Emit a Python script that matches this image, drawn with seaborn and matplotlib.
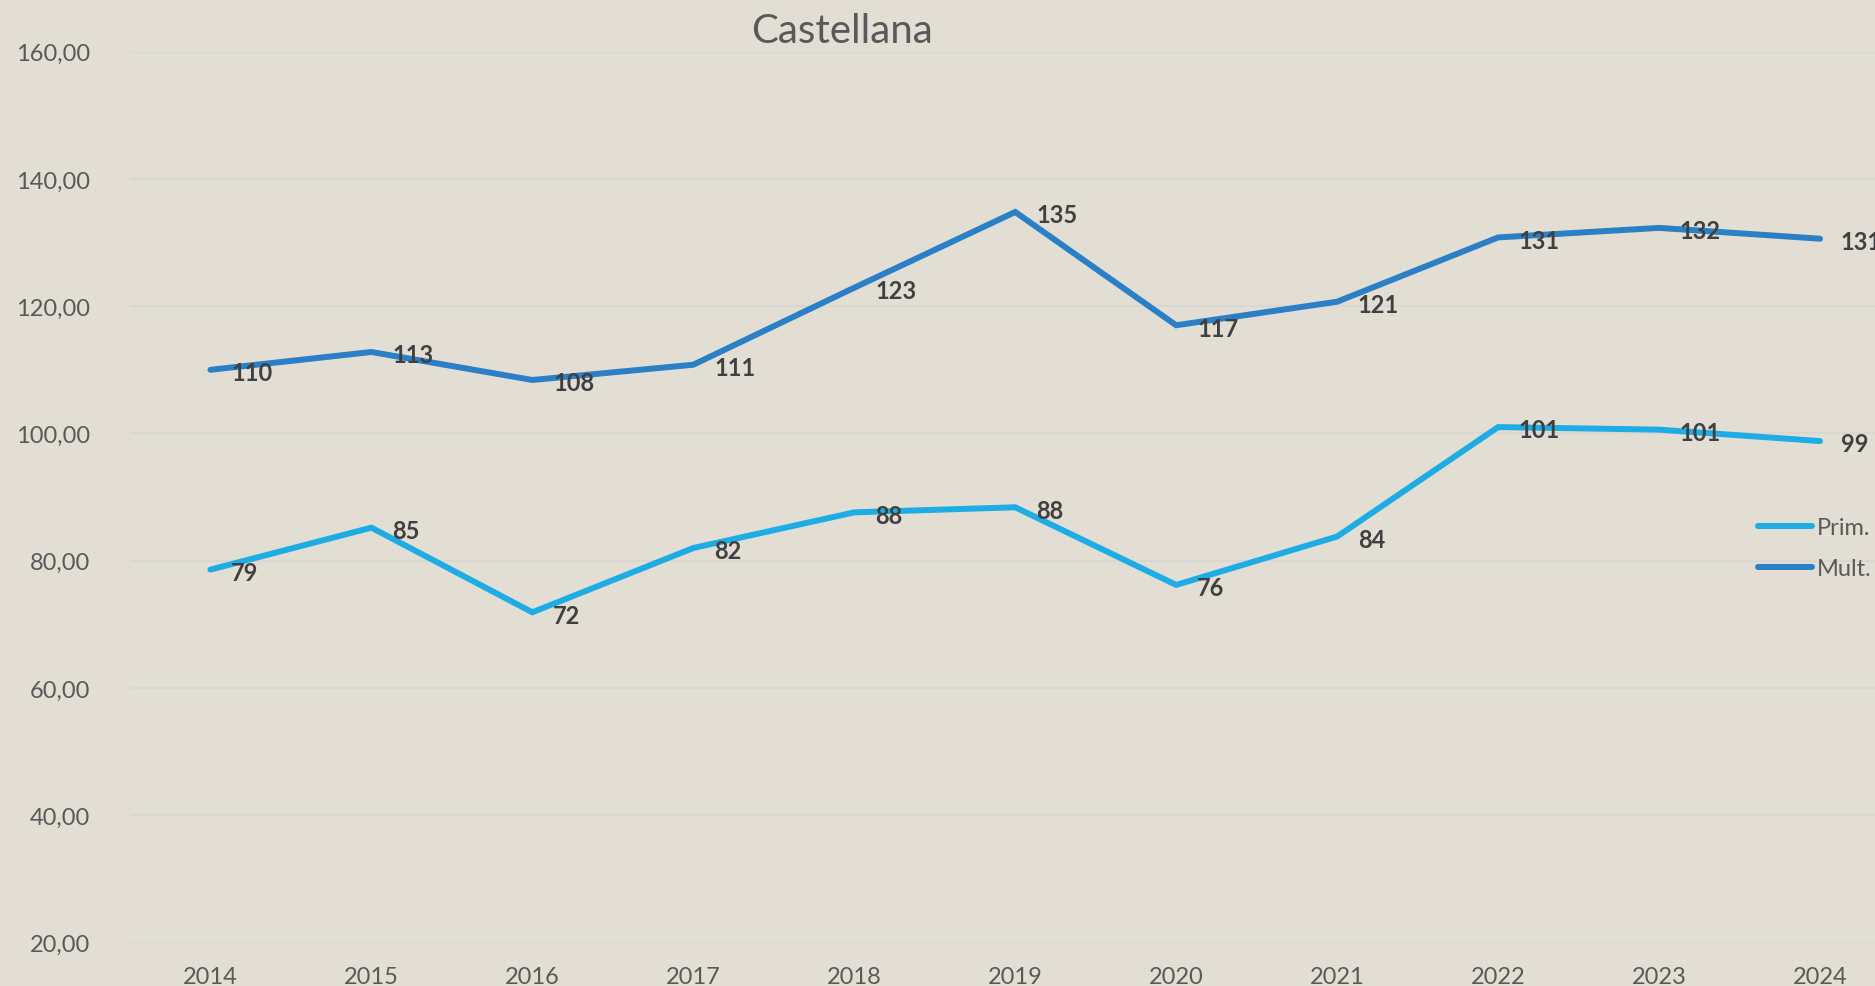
import numpy as np
import pandas as pd
import matplotlib
matplotlib.use('Agg')
import matplotlib.pyplot as plt
import seaborn as sns

years = [2014, 2015, 2016, 2017, 2018, 2019, 2020, 2021, 2022, 2023, 2024]
prim = [78.6, 85.2, 71.9, 82.0, 87.6, 88.4, 76.2, 83.8, 101.0, 100.6, 98.8]
mult = [110.0, 112.8, 108.4, 110.8, 122.9, 134.8, 117.0, 120.7, 130.8, 132.3, 130.6]
series_names = ['Prim.', 'Mult.']
colors = ['#1DADE4', '#2A7FC7']
title = 'Castellana'
y_ticks = [20, 40, 60, 80, 100, 120, 140, 160]

bg = '#E3DED3'
sns.set_theme(style='whitegrid', rc={'axes.facecolor': bg, 'figure.facecolor': bg,
                                     'grid.color': '#D8D7D3', 'grid.linewidth': 1.5})
plt.rcParams['font.family'] = ['Lato', 'DejaVu Sans']

df = pd.DataFrame({'year': years * 2,
                   'value': prim + mult,
                   'series': [series_names[0]] * len(years) + [series_names[1]] * len(years)})

fig = plt.figure(figsize=(18.75, 9.87), dpi=100)
ax = fig.add_axes([0.0693, 0.044, 0.9443, 0.9027])
sns.lineplot(data=df, x='year', y='value', hue='series', palette=colors,
             linewidth=4.3, ax=ax, legend=False)
for line in ax.lines:
    line.set_solid_capstyle('round')
    line.set_solid_joinstyle('miter')

# data labels to the right of each point
for vals in [prim, mult]:
    for x, v in zip(years, vals):
        ax.annotate(str(int(round(v))), (x, v), xytext=(15, -2), textcoords='offset points',
                    ha='left', va='center', fontsize=17, fontweight='bold', color='#404040',
                    annotation_clip=False)

ax.set_xlim(2013.5, 2024.5)
ax.set_ylim(20, 160)
ax.set_yticks(y_ticks)
ax.set_yticklabels(['%d,00' % t for t in y_ticks])
ax.set_xticks(years)
ax.set_xticklabels([str(y) for y in years])
ax.tick_params(axis='y', labelsize=17, labelcolor='#595959', pad=29, length=0)
ax.tick_params(axis='x', labelsize=17, labelcolor='#595959', pad=17, length=0)
ax.grid(axis='x', visible=False)
ax.set_xlabel('')
ax.set_ylabel('')
for s in ax.spines.values():
    s.set_visible(False)

fig.text(0.449, 0.968, title, ha='center', va='center', fontsize=29, color='#595959')

handles = [plt.Line2D([], [], color=c, linewidth=4.3, solid_capstyle='round') for c in colors]
fig.legend(handles, series_names, loc='center left', bbox_to_anchor=(0.9376, 0.4438),
           bbox_transform=fig.transFigure, frameon=False, fontsize=17, labelcolor='#595959',
           handlelength=2.3, handletextpad=0.2, labelspacing=0.85, borderpad=0, borderaxespad=0)

fig.savefig('out.png', dpi=100, facecolor=bg)
